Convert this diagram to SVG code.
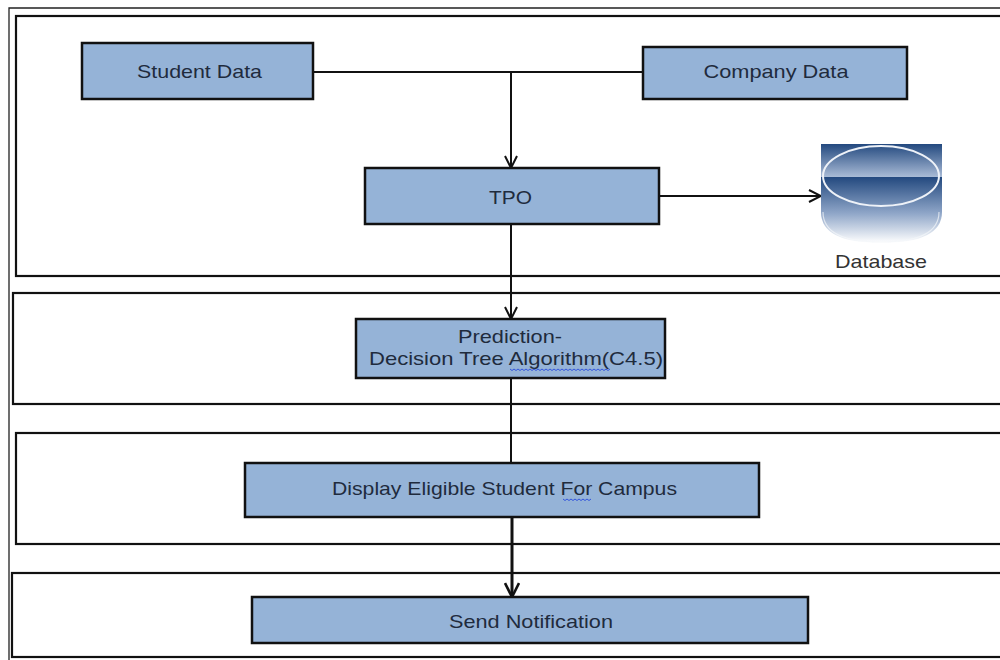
<svg xmlns="http://www.w3.org/2000/svg" width="1000" height="660" viewBox="0 0 1000 660">
<defs>
<style>
.frame{fill:none;stroke:#222;stroke-width:1.3}
.panel{fill:#fff;stroke:#111;stroke-width:2.2}
.box{fill:#95b3d7;stroke:#111;stroke-width:2.5}
.lbl{font-family:"Liberation Sans",Arial,sans-serif;font-size:19px;fill:#1f2b3d;text-anchor:middle}
.con{fill:none;stroke:#111;stroke-width:2}
.squig{fill:none;stroke:#3355dd;stroke-width:1}
</style>
<marker id="arr" viewBox="0 0 14 14" refX="13" refY="7" markerWidth="14" markerHeight="14" markerUnits="userSpaceOnUse" orient="auto">
<path d="M1,1 L13,7 L1,13" fill="none" stroke="#111" stroke-width="2"/>
</marker>
<marker id="arrB" viewBox="0 0 16 16" refX="15" refY="8" markerWidth="16" markerHeight="16" markerUnits="userSpaceOnUse" orient="auto">
<path d="M1,1 L15,8 L1,15" fill="none" stroke="#111" stroke-width="2.6"/>
</marker>
<linearGradient id="dbTop" x1="0" y1="0" x2="0" y2="1">
<stop offset="0" stop-color="#23497f"/>
<stop offset="1" stop-color="#a9bbd6"/>
</linearGradient>
<linearGradient id="dbBot" x1="0" y1="0" x2="0" y2="1">
<stop offset="0" stop-color="#23497f"/>
<stop offset="0.55" stop-color="#8fa6c8"/>
<stop offset="1" stop-color="#ffffff"/>
</linearGradient>
</defs>
<rect width="1000" height="660" fill="#fff"/>
<g id="frame">
<path class="frame" d="M1000,8 H9 V660"/>
<rect class="panel" x="16" y="16" width="1000" height="260"/>
<rect class="panel" x="13" y="293" width="1000" height="111"/>
<rect class="panel" x="16" y="433" width="1000" height="111"/>
<rect class="panel" x="12" y="573" width="1000" height="84"/>
</g>
<g id="connectors">
<path class="con" d="M313,72 H643"/>
<path class="con" d="M511,72 V168" marker-end="url(#arr)"/>
<path class="con" d="M659,196 H821" marker-end="url(#arr)"/>
<path class="con" d="M511,224 V319" marker-end="url(#arr)"/>
<path class="con" d="M511,378 V463"/>
<path class="con" d="M512,517 V597" style="stroke-width:3" marker-end="url(#arrB)"/>
</g>
<g id="student-data">
<rect class="box" x="82" y="43" width="231" height="56"/>
<text class="lbl" x="199.5" y="78" textLength="125" lengthAdjust="spacingAndGlyphs">Student Data</text>
</g>
<g id="company-data">
<rect class="box" x="643" y="47" width="264" height="52"/>
<text class="lbl" x="776" y="78" textLength="145" lengthAdjust="spacingAndGlyphs">Company Data</text>
</g>
<g id="tpo">
<rect class="box" x="365" y="168" width="294" height="56"/>
<text class="lbl" x="510.5" y="204" textLength="43" lengthAdjust="spacingAndGlyphs">TPO</text>
</g>
<g id="database">
<rect x="821" y="144" width="121" height="33" fill="url(#dbTop)"/>
<path d="M821,177 H942 V212 Q942,243 881,243 Q821,243 821,212 Z" fill="url(#dbBot)"/>
<ellipse cx="881" cy="176" rx="58" ry="30" fill="none" stroke="#eef2f8" stroke-width="2"/>
<path d="M823,212 Q823,242 881,242 Q939,242 939,212" fill="none" stroke="#f4f6fa" stroke-width="1.2" opacity="0.7"/>
<text class="lbl" x="881" y="268" textLength="92" lengthAdjust="spacingAndGlyphs" style="fill:#333">Database</text>
</g>
<g id="prediction">
<rect class="box" x="356" y="319" width="309" height="59"/>
<text class="lbl" x="510" y="343" textLength="104" lengthAdjust="spacingAndGlyphs">Prediction-</text>
<text class="lbl" x="516" y="365" textLength="294" lengthAdjust="spacingAndGlyphs">Decision Tree Algorithm(C4.5)</text>
<path class="squig" d="M510,369 l2,1.5 l2,-1.5 l2,1.5 l2,-1.5 l2,1.5 l2,-1.5 l2,1.5 l2,-1.5 l2,1.5 l2,-1.5 l2,1.5 l2,-1.5 l2,1.5 l2,-1.5 l2,1.5 l2,-1.5 l2,1.5 l2,-1.5 l2,1.5 l2,-1.5 l2,1.5 l2,-1.5 l2,1.5 l2,-1.5 l2,1.5 l2,-1.5 l2,1.5 l2,-1.5 l2,1.5 l2,-1.5 l2,1.5 l2,-1.5 l2,1.5 l2,-1.5 l2,1.5 l2,-1.5 l2,1.5 l2,-1.5 l2,1.5 l2,-1.5 l2,1.5 l2,-1.5 l2,1.5 l2,-1.5 l2,1.5 l2,-1.5 l2,1.5 l2,-1.5 l2,1.5 l2,-1.5"/>
</g>
<g id="display">
<rect class="box" x="245" y="463" width="514" height="54"/>
<text class="lbl" x="504.5" y="495" textLength="345" lengthAdjust="spacingAndGlyphs">Display Eligible Student For Campus</text>
<path class="squig" d="M563,499 l2,1.5 l2,-1.5 l2,1.5 l2,-1.5 l2,1.5 l2,-1.5 l2,1.5 l2,-1.5 l2,1.5 l2,-1.5 l2,1.5 l2,-1.5 l2,1.5 l2,-1.5"/>
</g>
<g id="send-notification">
<rect class="box" x="252" y="597" width="556" height="46"/>
<text class="lbl" x="531" y="628" textLength="164" lengthAdjust="spacingAndGlyphs">Send Notification</text>
</g>
</svg>
